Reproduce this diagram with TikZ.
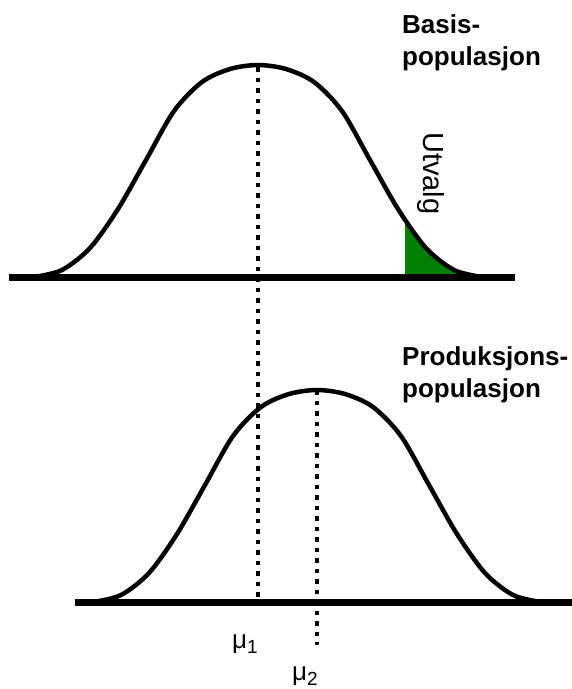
\documentclass[tikz,border=0pt]{standalone}
\usepackage{fontspec}
\setmainfont{Liberation Sans}
\definecolor{utvalg}{RGB}{0,128,0}
\tikzset{
  curve/.style={line width=4.5pt, line join=round},
  axis/.style={line width=7pt},
  guide/.style={line width=4.5pt, dash pattern=on 4.5pt off 6pt},
  title/.style={font=\fontsize{26}{32}\selectfont\bfseries, anchor=base west, inner sep=0pt},
  mu/.style={font=\fontsize{26}{30}\selectfont, anchor=base west, inner sep=0pt},
  bell/.pic={
    \path[pic actions] plot[smooth] coordinates {(-224,0) (-196,-7) (-168,-29) (-140,-68)
      (-112,-117) (-84,-166) (-56,-195) (-28,-208) (0,-212) (28,-208) (56,-195)
      (84,-166) (112,-117) (140,-68) (168,-29) (196,-7) (224,0)};
  }
}
\newcommand{\sub}[1]{\raisebox{-5pt}{\fontsize{19}{19}\selectfont #1}}
\begin{document}
\begin{tikzpicture}[x=1pt,y=-1pt]
\useasboundingbox (0,0) rectangle (572,689);
% sample area
\begin{scope}
  \clip (405,0) rectangle (572,277);
  \pic[fill=utvalg] at (258,277) {bell};
\end{scope}
% curves
\pic[draw,curve] at (258,277) {bell};
\pic[draw,curve] at (317,602) {bell};
% axes
\coordinate (baseA) at (9,277);
\coordinate (baseB) at (515,277);
\coordinate (prodA) at (75,602);
\coordinate (prodB) at (572,602);
\draw[axis] (baseA) -- (baseB);
\draw[axis] (prodA) -- (prodB);
% means
\coordinate (mu1top) at (258,67);
\coordinate (mu1bot) at (258,602);
\coordinate (mu2top) at (317,390);
\coordinate (mu2bot) at (317,645);
\draw[guide] (mu1top) -- (mu1bot);
\draw[guide] (mu2top) -- (mu2bot);
% labels
\node[title] (basis1) at (402,33) {Basis-};
\node[title] (basis2) at (402,65) {populasjon};
\node[title] (prod1) at (402,365) {Produksjons-};
\node[title] (prod2) at (402,397) {populasjon};
\node[font=\fontsize{29}{32}\selectfont, rotate=-90, anchor=base west, inner sep=0pt] (sample) at (423,132) {Utvalg};
\node[mu] (mu1) at (232,648) {μ\sub{1}};
\node[mu] (mu2) at (292,680) {μ\sub{2}};
\end{tikzpicture}
\end{document}
